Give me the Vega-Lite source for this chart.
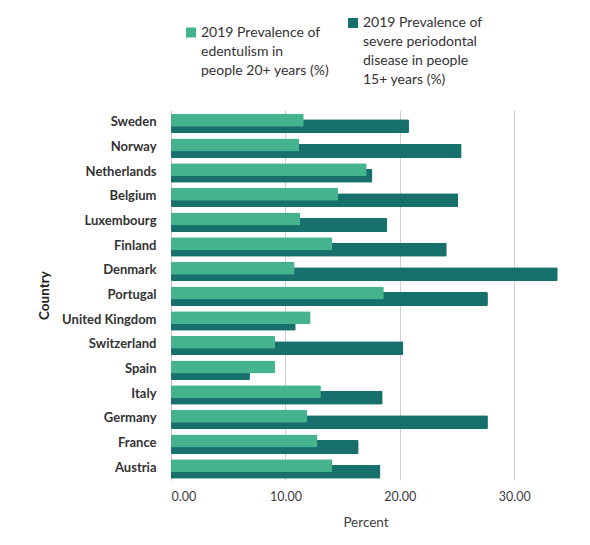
{
  "$schema": "https://vega.github.io/schema/vega-lite/v6.json",
  "width": 389,
  "height": 370,
  "autosize": "none",
  "padding": {"left": 171, "top": 110, "right": 30, "bottom": 65},
  "background": "white",
  "config": {
    "font": "Lato",
    "view": {"stroke": null},
    "style": {"guide-label": {"lineHeight": 19}}
  },
  "data": {
    "values": [
      {"Country": "Sweden", "edentulism": 11.6, "periodontal": 20.8},
      {"Country": "Norway", "edentulism": 11.2, "periodontal": 25.4},
      {"Country": "Netherlands", "edentulism": 17.1, "periodontal": 17.6},
      {"Country": "Belgium", "edentulism": 14.6, "periodontal": 25.1},
      {"Country": "Luxembourg", "edentulism": 11.3, "periodontal": 18.9},
      {"Country": "Finland", "edentulism": 14.1, "periodontal": 24.1},
      {"Country": "Denmark", "edentulism": 10.8, "periodontal": 33.8},
      {"Country": "Portugal", "edentulism": 18.6, "periodontal": 27.7},
      {"Country": "United Kingdom", "edentulism": 12.2, "periodontal": 10.9},
      {"Country": "Switzerland", "edentulism": 9.1, "periodontal": 20.3},
      {"Country": "Spain", "edentulism": 9.1, "periodontal": 6.9},
      {"Country": "Italy", "edentulism": 13.1, "periodontal": 18.5},
      {"Country": "Germany", "edentulism": 11.9, "periodontal": 27.7},
      {"Country": "France", "edentulism": 12.8, "periodontal": 16.4},
      {"Country": "Austria", "edentulism": 14.1, "periodontal": 18.3}
    ]
  },
  "encoding": {
    "y": {
      "field": "Country",
      "type": "nominal",
      "sort": null,
      "scale": {"paddingInner": 0, "paddingOuter": 0},
      "axis": {
        "title": "Country",
        "titleFontWeight": "bold",
        "titleFontSize": 13.5,
        "titleColor": "#222222",
        "titlePadding": 10,
        "labelFontWeight": "bold",
        "labelFontSize": 13,
        "labelColor": "#333333",
        "labelPadding": 15,
        "ticks": false,
        "domain": true,
        "domainColor": "#bfbfbf",
        "grid": false
      }
    }
  },
  "layer": [
    {
      "mark": {"type": "bar", "height": 14, "yOffset": 4, "cornerRadius": 1.5},
      "encoding": {
        "x": {
          "field": "periodontal",
          "type": "quantitative",
          "scale": {"domain": [0, 34], "nice": false},
          "axis": {
            "title": "Percent",
            "titleFontWeight": "normal",
            "titleFontSize": 13.5,
            "titleColor": "#404040",
            "titlePadding": 13,
            "values": [0, 10, 20, 30],
            "format": ".2f",
            "labelFontSize": 12.5,
            "labelColor": "#404040",
            "labelPadding": 10,
            "ticks": false,
            "domain": false,
            "grid": true,
            "gridColor": "#cfcfcf"
          }
        },
        "color": {
          "datum": "2019 Prevalence of|severe periodontal|disease in people|15+ years (%)",
          "scale": {
            "domain": [
              "2019 Prevalence of|edentulism in|people 20+ years (%)",
              "2019 Prevalence of|severe periodontal|disease in people|15+ years (%)"
            ],
            "range": ["#45b48e", "#17706c"]
          },
          "legend": {
            "orient": "none",
            "legendX": 13,
            "legendY": -94,
            "direction": "horizontal",
            "title": null,
            "symbolType": "square",
            "symbolSize": 100,
            "symbolStrokeWidth": 0,
            "labelExpr": "split(datum.label, '|')",
            "labelFontSize": 14,
            "labelColor": "#333333",
            "labelOffset": 3,
            "labelLimit": 220,
            "labelBaseline": "middle",
            "columnPadding": 16
          }
        }
      }
    },
    {
      "mark": {"type": "bar", "height": 13, "yOffset": -2, "cornerRadius": 1.5},
      "encoding": {
        "x": {"field": "edentulism", "type": "quantitative"},
        "color": {"datum": "2019 Prevalence of|edentulism in|people 20+ years (%)"}
      }
    }
  ]
}
